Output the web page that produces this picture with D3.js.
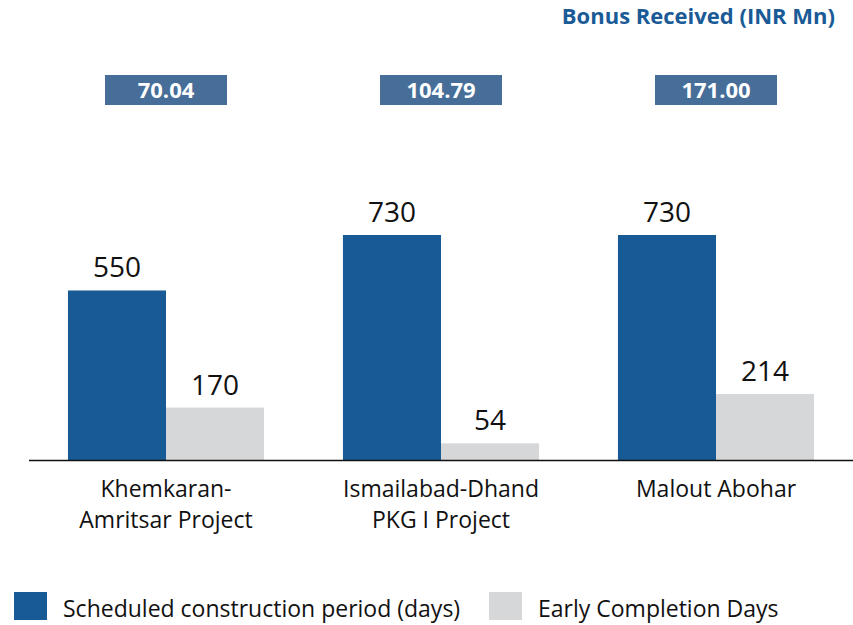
<!DOCTYPE html>
<html>
<head>
<meta charset="utf-8">
<script src="https://cdn.jsdelivr.net/npm/d3@7"></script>
<style>
  body { margin: 0; background: #fff; }
  svg { display: block; font-family: "Open Sans", sans-serif; }
</style>
</head>
<body>
<div id="chart"></div>
<script>
const projects = ["Khemkaran-|Amritsar Project", "Ismailabad-Dhand|PKG I Project", "Malout Abohar"];
const scheduledDays = [550, 730, 730];
const earlyDays = [170, 54, 214];
const bonusReceived = ["70.04", "104.79", "171.00"];
const seriesNames = ["Scheduled construction period (days)", "Early Completion Days"];
const seriesColors = ["#175a96", "#d6d7d9"];

const width = 853, height = 625;
const baseY = 460;

const svg = d3.select("#chart").append("svg")
    .attr("width", width)
    .attr("height", height);

// Шкалы
const x = d3.scaleBand()
    .domain(projects)
    .range([28.5, 853.5])
    .paddingInner(0.287)
    .paddingOuter(0.1435);

const xSub = d3.scaleBand()
    .domain([0, 1])
    .range([0, x.bandwidth()]);

const y = d3.scaleLinear()
    .domain([0, 730])
    .range([baseY, 235]);

const rows = projects.map((p, i) => ({ p, vals: [scheduledDays[i], earlyDays[i]], bonus: bonusReceived[i] }));

// Заголовок
svg.append("text")
    .attr("x", 835)
    .attr("y", 24)
    .attr("text-anchor", "end")
    .attr("font-size", 22)
    .attr("font-weight", "bold")
    .attr("fill", "#1a5a96")
    .text("Bonus Received (INR Mn)");

// Столбцы
const group = svg.append("g")
    .selectAll("g")
    .data(rows)
    .enter().append("g")
    .attr("transform", d => `translate(${x(d.p)},0)`);

group.selectAll("rect")
    .data(d => d.vals)
    .enter().append("rect")
    .attr("x", (v, j) => xSub(j))
    .attr("y", v => y(v))
    .attr("width", xSub.bandwidth())
    .attr("height", v => baseY - y(v))
    .attr("fill", (v, j) => seriesColors[j]);

group.selectAll("text.val")
    .data(d => d.vals)
    .enter().append("text")
    .attr("class", "val")
    .attr("x", (v, j) => xSub(j) + xSub.bandwidth() / 2)
    .attr("y", v => y(v) - 13)
    .attr("text-anchor", "middle")
    .attr("font-size", 28)
    .attr("fill", "#111")
    .text(v => v);

// Плашки бонуса
const bw = 122, bh = 30;
group.append("rect")
    .attr("x", x.bandwidth() / 2 - bw / 2)
    .attr("y", 75)
    .attr("width", bw)
    .attr("height", bh)
    .attr("fill", "#466e99");

group.append("text")
    .attr("x", x.bandwidth() / 2)
    .attr("y", 98)
    .attr("text-anchor", "middle")
    .attr("font-size", 22)
    .attr("font-weight", "bold")
    .attr("fill", "#fff")
    .text(d => d.bonus);

// Ось X
svg.append("line")
    .attr("x1", 29).attr("x2", 853)
    .attr("y1", baseY + 0.5).attr("y2", baseY + 0.5)
    .attr("stroke", "#111")
    .attr("stroke-width", 1.5);

const cat = svg.append("g")
    .selectAll("text")
    .data(projects)
    .enter().append("text")
    .attr("x", d => x(d) + x.bandwidth() / 2)
    .attr("y", 497)
    .attr("text-anchor", "middle")
    .attr("font-size", 23)
    .attr("fill", "#111");

cat.selectAll("tspan")
    .data(d => d.split("|"))
    .enter().append("tspan")
    .attr("x", function () { return d3.select(this.parentNode).attr("x"); })
    .attr("dy", (t, i) => i === 0 ? 0 : 31)
    .text(t => t);

// Легенда
const legendX = [14, 489];
const leg = svg.append("g")
    .selectAll("g")
    .data(seriesNames)
    .enter().append("g")
    .attr("transform", (d, i) => `translate(${legendX[i]},592)`);

leg.append("rect")
    .attr("width", 33)
    .attr("height", 28)
    .attr("fill", (d, i) => seriesColors[i]);

leg.append("text")
    .attr("x", 49)
    .attr("y", 25)
    .attr("font-size", 23)
    .attr("fill", "#111")
    .text(d => d);
</script>
</body>
</html>
